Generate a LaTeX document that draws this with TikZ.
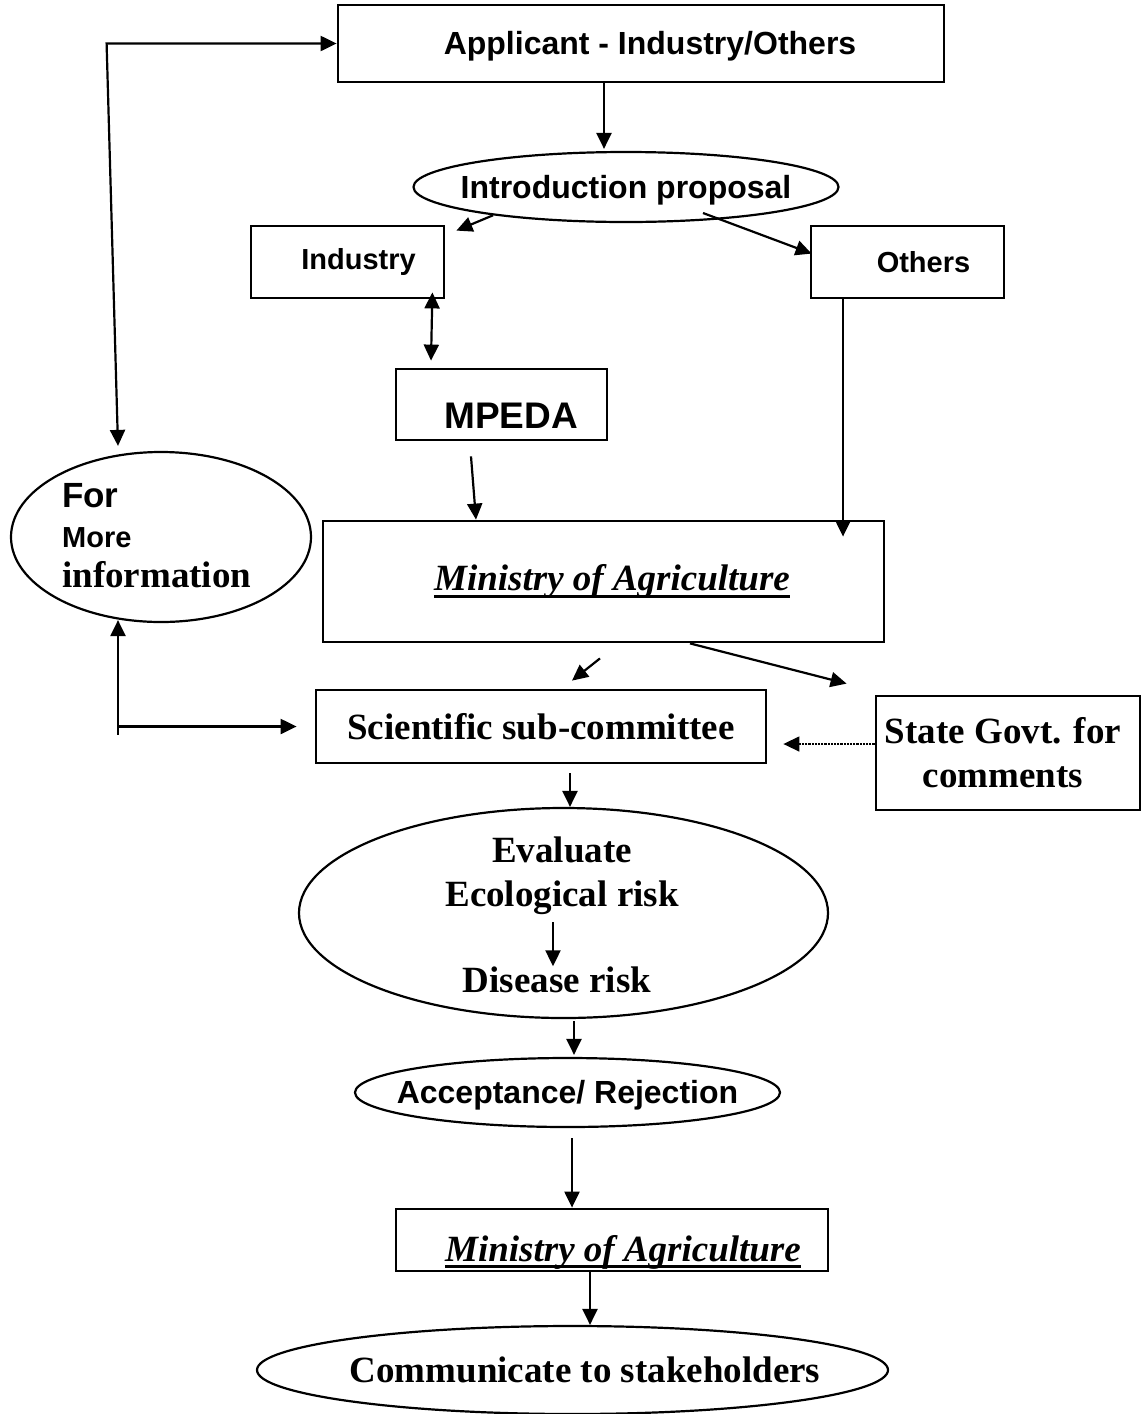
\documentclass[tikz,border=0pt]{standalone}
\usepackage{fontspec}
\setmainfont{Liberation Serif}
\setsansfont{Liberation Sans}
\usetikzlibrary{arrows.meta, shapes.geometric}

\newcommand{\ovaltext}[1]{\makebox[0pt]{#1}}
\newcommand{\agriline}[1]{\setbox0=\hbox{#1}\rlap{\rule[-7pt]{\wd0}{3pt}}\box0}

\begin{document}
\begin{tikzpicture}[x=1pt, y=-1pt,
    >={Triangle[length=16pt, width=15pt]},
    box/.style={draw, line width=2.8pt, inner sep=0pt},
    oval/.style={draw, ellipse, line width=2.2pt, inner sep=0pt},
    sans/.style={font=\fontsize{#1}{#1}\selectfont\sffamily\bfseries},
    sans/.default=32,
    capmid/.style={text height=25.6pt, text depth=2.7pt},
    serif/.style={font=\fontsize{37}{44}\selectfont\bfseries},
    arr/.style={->, line width=2.2pt},
    dbl/.style={<->, line width=2.2pt}]
    \useasboundingbox (0,0) rectangle (1142,1414);

    % Draw the applicant and the proposal
    \node[box, sans, capmid, minimum width=606, minimum height=77] (app) at (641,43.5) {\hspace*{18pt}Applicant - Industry/Others};
    \node[oval, sans, capmid, minimum width=425, minimum height=70] (intro) at (626,187) {\ovaltext{Introduction proposal}};

    % Two routes
    \node[box, sans=29, minimum width=193, minimum height=72] (industry) at (347.5,262) {\hspace*{22pt}Industry};
    \node[box, sans=29, minimum width=193, minimum height=72] (others) at (907.5,262) {\hspace*{32pt}Others};
    \node[box, sans=37, minimum width=211, minimum height=71, text height=47pt, text depth=0pt] (mpeda) at (501.5,404.5) {\hspace*{19pt}MPEDA};

    % Ministry and committees
    \node[box, serif, minimum width=561, minimum height=121] (moa) at (603.5,581.5) {\hspace*{17pt}\agriline{\itshape Ministry of Agriculture}};
    \node[oval, minimum width=300, minimum height=170] (info) at (161,537) {};
    \node[align=left, anchor=north west, inner sep=0pt, font=\fontsize{37}{40}\selectfont\bfseries] (infotxt) at (62,483)
        {{\sffamily\fontsize{35}{40}\selectfont For}\\{\sffamily\fontsize{29}{40}\selectfont More}\\information};
    \node[box, serif, minimum width=450, minimum height=73] (sci) at (541,726.5) {Scientific sub-committee};
    \node[box, serif, minimum width=264, minimum height=114, align=center] (state) at (1008,753) {State Govt. for\hspace*{10pt}\\comments\hspace*{10pt}};

    % Risk evaluation
    \node[oval, minimum width=529, minimum height=210] (eval) at (563.5,913) {};
    \node[serif, align=center, inner sep=0pt] (ecotxt) at (562,876) {Evaluate\\Ecological risk};
    \node[serif, inner sep=0pt] (disease) at (557,979.5) {Disease risk};
    \node[oval, sans, capmid, minimum width=425, minimum height=69] (accept) at (567.5,1092.5) {\ovaltext{Acceptance/ Rejection}};

    % Final decision
    \node[box, serif, minimum width=432, minimum height=62, text height=42pt, text depth=0pt] (moa2) at (612,1240) {\hspace*{22pt}\agriline{\itshape Ministry of Agriculture}};
    \node[oval, serif, minimum width=631, minimum height=88] (comm) at (572.5,1370) {\ovaltext{\hspace*{25pt}Communicate to stakeholders}};

    % Connectors
    \draw[arr] ([xshift=-37]app.south) -- ([xshift=-22,yshift=2]intro.north);
    \draw[arr] (intro.192) -- ([xshift=11,yshift=-6]industry.north east);
    \draw[arr] ([xshift=77,yshift=-26]intro.center) -- ([xshift=2,yshift=-29]others.north west);
    \draw[dbl] ([xshift=-13,yshift=7]industry.south east) -- ([xshift=-70.5,yshift=7]mpeda.north);
    \draw[arr] ([xshift=-30.5,yshift=-15]mpeda.south) -- ([xshift=-127.5]moa.north);
    \draw[arr] ([xshift=-64.5]others.south) -- ([xshift=239.5,yshift=-17]moa.north);

    % Loops back for more information
    \coordinate (fork) at ([xshift=-230]app.west);
    \draw[dbl] ([xshift=-43,yshift=5]info.north) -- (fork) -- (app.west);
    \draw[dbl] ([xshift=-43,yshift=3]info.south) |- coordinate[pos=0.5] (bend) ([xshift=-18]sci.west);
    \draw[line width=2.2pt] (bend) -- ++(0,8);

    \draw[arr] ([xshift=-3.5,yshift=-15]moa.south) -- ([xshift=31,yshift=8]sci.north);
    \draw[arr] ([xshift=86.5]moa.south) -- ([xshift=-28,yshift=11]state.north west);
    \draw[arr, densely dotted, line width=1.5pt] ([yshift=9]state.west) -- ([xshift=16,yshift=-17.5]sci.east);
    \draw[arr] ([xshift=29,yshift=-9]sci.south) -- ([xshift=6.5]eval.north);
    \draw[arr] ([xshift=-9,yshift=-7]ecotxt.south) -- ([xshift=-4]disease.north);
    \draw[arr] ([xshift=10.5,yshift=-2]eval.south) -- ([xshift=6.5,yshift=2]accept.north);
    \draw[arr] ([xshift=4.5,yshift=-10]accept.south) -- ([xshift=-40]moa2.north);
    \draw[arr] ([xshift=-22]moa2.south) -- ([xshift=17.5]comm.north);
\end{tikzpicture}
\end{document}
